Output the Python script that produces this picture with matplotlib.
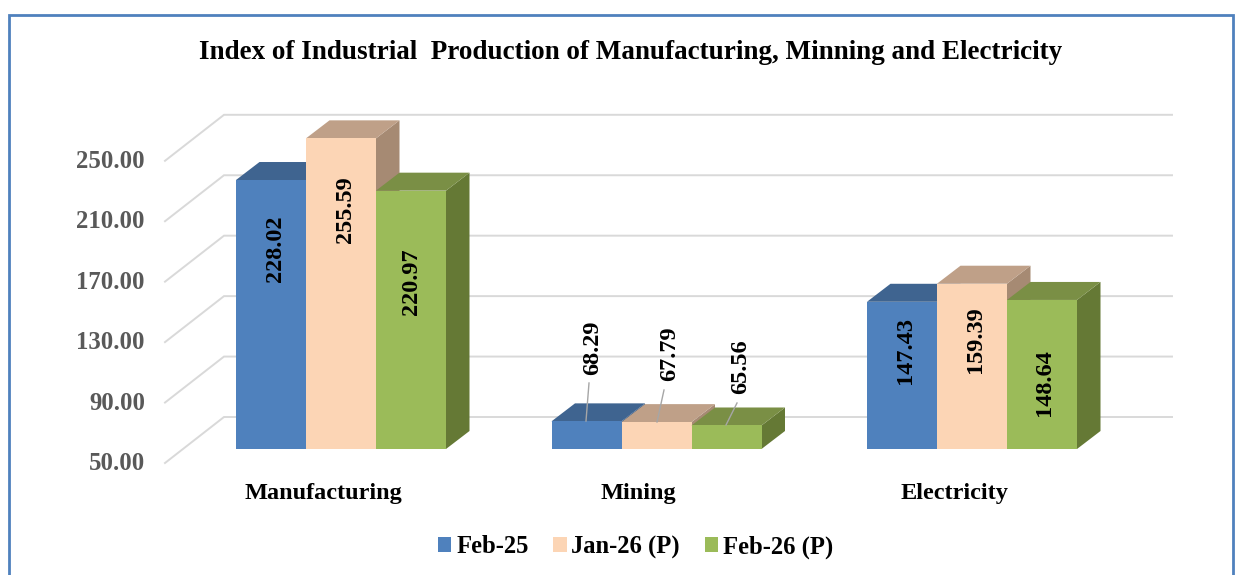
import matplotlib
matplotlib.use("Agg")
import matplotlib.pyplot as plt
from matplotlib.patches import Polygon, Patch, Rectangle

categories = ["Manufacturing", "Mining", "Electricity"]
series_names = ["Feb-25", "Jan-26 (P)", "Feb-26 (P)"]
feb_25 = [228.02, 68.29, 147.43]
jan_26 = [255.59, 67.79, 159.39]
feb_26 = [220.97, 65.56, 148.64]
y_ticks = [50, 90, 130, 170, 210, 250]
title = "Index of Industrial  Production of Manufacturing, Minning and Electricity"

series = [feb_25, jan_26, feb_26]
front_colors = ["#4F81BD", "#FCD5B5", "#9BBB59"]
top_colors = ["#3F6490", "#BFA088", "#7A8F45"]
side_colors = ["#3A5C85", "#A68A73", "#657935"]

# pixel layout of the reference, turned into data units below
W, H = 1245, 575
X0, X_STEP = 341, 315.5
Y0, Y_STEP = 449, 1.511


def px_x(p):
    return (p - X0) / X_STEP


def px_y(p):
    return 50 + (Y0 - p) / Y_STEP


bar_w = 70 / X_STEP
depth_x = 23.5 / X_STEP
depth_y = 18 / Y_STEP
floor_y = 14 / Y_STEP
back_y = 32 / Y_STEP

plt.rcParams["font.family"] = "Liberation Serif"
plt.rcParams["font.weight"] = "bold"

fig = plt.figure(figsize=(W / 100, H / 100), dpi=100)
ax = fig.add_axes([0, 0, 1, 1])
ax.set_xlim(px_x(0), px_x(W))
ax.set_ylim(px_y(H), px_y(0))
ax.axis("off")

# outer border, cut by the bottom of the image
fig.add_artist(Rectangle((8.5 / W, -0.05), 1224 / W, 1.05 - 14.5 / H,
                         transform=fig.transFigure, fill=False,
                         edgecolor="#4F81BD", linewidth=2))

# gridlines on the wall and floor
wall_front, wall_back, wall_end = px_x(165), px_x(224), px_x(1172)
for t in y_ticks:
    ax.plot([wall_front, wall_back, wall_end],
            [t - floor_y, t + back_y, t + back_y],
            color="#D9D9D9", linewidth=1.4, solid_joinstyle="miter", zorder=1)
    ax.text(px_x(145), t - floor_y - 0.5, f"{t:.2f}", ha="right", va="center",
            fontsize=17.8, color="#595959")

# bars, left to right so each one covers the depth of the previous
z = 2
for i in range(len(categories)):
    for j, values in enumerate(series):
        v = values[i]
        left = i + (j - 1.5) * bar_w
        right = left + bar_w
        ax.add_patch(Polygon([(right, 50), (right + depth_x, 50 + depth_y),
                              (right + depth_x, v + depth_y), (right, v)],
                             facecolor=side_colors[j], edgecolor="none", zorder=z))
        ax.add_patch(Polygon([(left, v), (left + depth_x, v + depth_y),
                              (right + depth_x, v + depth_y), (right, v)],
                             facecolor=top_colors[j], edgecolor="none", zorder=z))
        ax.bar(left, v - 50, width=bar_w, bottom=50, align="edge",
               color=front_colors[j], zorder=z + 0.5)
        z += 1

# value labels
label_px = {
    (0, 0): (275, 249), (0, 1): (345, 210), (0, 2): (411, 282),
    (1, 0): (593, 348), (1, 1): (670, 354), (1, 2): (741, 367),
    (2, 0): (905, 350), (2, 1): (975, 340), (2, 2): (1045, 383),
}
for (i, j), (lx, ly) in label_px.items():
    ax.text(px_x(lx), px_y(ly), f"{series[j][i]:.2f}", rotation=90,
            ha="center", va="center", fontsize=17.5, color="black", zorder=50)

# leader lines for the short mining bars
leaders = [((589, 383), (586, 421)), ((664, 390), (657, 422)), ((737, 403), (726, 425))]
for (x1, y1), (x2, y2) in leaders:
    ax.plot([px_x(x1), px_x(x2)], [px_y(y1), px_y(y2)],
            color="#A6A6A6", linewidth=1, zorder=49)

for i, name in enumerate(categories):
    ax.text(i + px_x(323), px_y(493.5), name, ha="center", va="center",
            fontsize=17.5, color="black")

ax.text(px_x(631), px_y(52.5), title, ha="center", va="center",
        fontsize=19.5, color="black")

handles = [Patch(facecolor=c, label=n) for c, n in zip(front_colors, series_names)]
ax.legend(handles=handles, ncol=3, loc="center", bbox_to_anchor=(635.5 / W, 1 - 547 / H),
          frameon=False, fontsize=17.7, handlelength=0.55, handleheight=0.55,
          handletextpad=0.2, columnspacing=1.0, borderpad=0, borderaxespad=0)

fig.savefig("out.png", dpi=100)
